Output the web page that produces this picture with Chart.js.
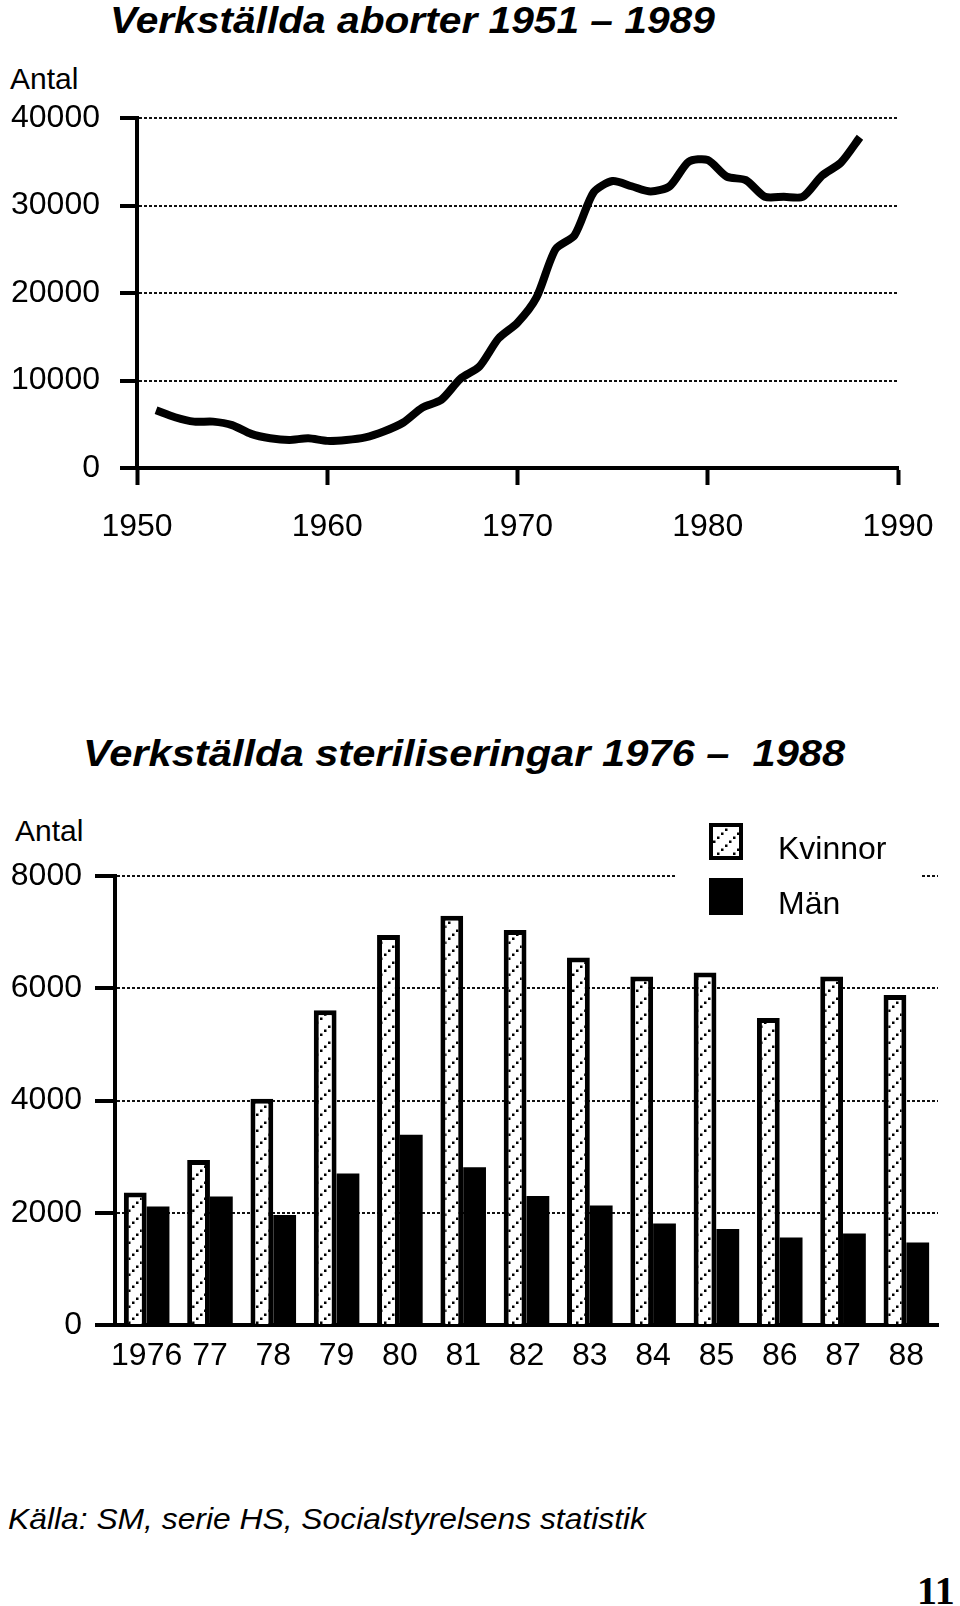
<!DOCTYPE html>
<html>
<head>
<meta charset="utf-8">
<script src="https://cdn.jsdelivr.net/npm/chart.js@4"></script>
<style>
  body { margin: 0; background: #fff; width: 960px; height: 1606px; position: relative; overflow: hidden;
         font-family: "Liberation Sans", Arial, sans-serif; color: #000; }
  .txt { position: absolute; white-space: nowrap; line-height: 1; }
  .title { font-weight: bold; font-style: italic; font-size: 37px; transform-origin: left top; transform: scaleX(1.1); }
  .antal { font-size: 30px; }
  .box { position: absolute; }
  #legend { position: absolute; left: 677px; top: 815px; width: 243px; height: 105px; background: #fff; }
  .sw { position: absolute; left: 32px; width: 34px; height: 37px; box-sizing: border-box; }
  .lg { position: absolute; left: 101px; font-size: 32px; line-height: 1; }
</style>
</head>
<body>

<div class="txt title" style="left:110px; top:2px;">Verkställda aborter 1951 – 1989</div>
<div class="txt antal" style="left:10px; top:64px;">Antal</div>
<div class="box" style="left:0; top:0;"><canvas id="abortChart" width="960" height="560"></canvas></div>

<div class="txt title" style="left:83px; top:735px; transform:scaleX(1.125);">Verkställda steriliseringar 1976 –&nbsp; 1988</div>
<div class="txt antal" style="left:15px; top:816px;">Antal</div>
<div class="box" style="left:0; top:700px;"><canvas id="sterilChart" width="960" height="720"></canvas></div>

<div id="legend">
  <div class="sw" id="swK" style="top:8px; border:4px solid #000;"></div>
  <div class="lg" style="top:17px;">Kvinnor</div>
  <div class="sw" style="top:63px; background:#000;"></div>
  <div class="lg" style="top:72px;">Män</div>
</div>

<div class="txt" style="left:8px; top:1504px; font-size:30px; font-style:italic; transform-origin:left top; transform:scaleX(1.06);">Källa: SM, serie HS, Socialstyrelsens statistik</div>
<div class="txt" style="left:917px; top:1571px; font-size:40px; font-weight:bold; font-family:'Liberation Serif', serif;">11</div>

<script>
// abortions per year
const abortYears = [1951, 1952, 1953, 1954, 1955, 1956, 1957, 1958, 1959, 1960,
                    1961, 1962, 1963, 1964, 1965, 1966, 1967, 1968, 1969, 1970,
                    1971, 1972, 1973, 1974, 1975, 1976, 1977, 1978, 1979, 1980,
                    1981, 1982, 1983, 1984, 1985, 1986, 1987, 1988];
const abortValues = [6600, 5800, 5300, 5300, 4900, 3900, 3400, 3200, 3400, 3100,
                     3200, 3500, 4200, 5200, 6900, 7800, 10200, 11600, 14800, 16600,
                     19500, 25000, 26600, 31500, 32800, 32200, 31600, 32200, 35000, 35200,
                     33300, 32900, 31000, 31000, 31000, 33400, 34900, 37800];
const abortYTicks = [0, 10000, 20000, 30000, 40000];
const abortXTicks = [1950, 1960, 1970, 1980, 1990];

// sterilisations 1976-1988
const sterilLabels = ['1976', '77', '78', '79', '80', '81', '82', '83', '84', '85', '86', '87', '88'];
const kvinnor = [2360, 2940, 4030, 5610, 6950, 7290, 7040, 6550, 6210, 6280, 5470, 6210, 5880];
const man = [2110, 2290, 1960, 2700, 3390, 2810, 2300, 2130, 1810, 1710, 1560, 1630, 1470];
const sterilYTicks = [0, 2000, 4000, 6000, 8000];

const FONT = { family: '"Liberation Sans", Arial, sans-serif', size: 32 };

// dotted diagonal hatch for the Kvinnor bars
function makeHatch() {
    const c = document.createElement('canvas');
    c.width = 16; c.height = 16;
    const g = c.getContext('2d');
    g.fillStyle = '#fff';
    g.fillRect(0, 0, 16, 16);
    g.fillStyle = '#000';
    [[0, 13.5], [4, 9.5], [8, 5.5], [12, 1.5]].forEach(([x, y]) => g.fillRect(x, y, 2.5, 2.5));
    return c;
}
const hatchCanvas = makeHatch();
const hatch = hatchCanvas.getContext('2d').createPattern(hatchCanvas, 'repeat');
document.getElementById('swK').style.background = 'url(' + hatchCanvas.toDataURL() + ')';

function yAxis(ticks, width, tickLen, pad) {
    return {
        min: ticks[0],
        max: ticks[ticks.length - 1],
        afterFit: s => { s.width = width; },
        afterBuildTicks: s => { s.ticks = ticks.map(v => ({ value: v })); },
        ticks: { color: '#000', font: FONT, padding: pad, callback: v => String(v) },
        grid: { color: '#111', lineWidth: 2, tickLength: tickLen, tickColor: '#000', tickWidth: 4 },
        border: { display: true, color: '#000', width: 4, dash: [3, 2] },
    };
}

new Chart(document.getElementById('abortChart'), {
    type: 'line',
    data: {
        datasets: [{
            data: abortYears.map((yr, i) => ({ x: yr, y: abortValues[i] })),
            borderColor: '#000',
            borderWidth: 8,
            pointRadius: 0,
            tension: 0.25,
            borderJoinStyle: 'round',
        }],
    },
    options: {
        responsive: false,
        animation: false,
        layout: { padding: { left: 0, top: 118, right: 62, bottom: 20 } },
        plugins: { legend: { display: false }, tooltip: { enabled: false } },
        scales: {
            x: {
                type: 'linear',
                min: abortXTicks[0],
                max: abortXTicks[abortXTicks.length - 1],
                afterFit: s => { s.height = 72; },
                afterBuildTicks: s => { s.ticks = abortXTicks.map(v => ({ value: v })); },
                ticks: { color: '#000', font: FONT, padding: 23, maxRotation: 0, callback: v => String(v) },
                grid: { drawOnChartArea: false, tickLength: 17, tickColor: '#000', tickWidth: 4 },
                border: { color: '#000', width: 4 },
            },
            y: yAxis(abortYTicks, 137, 17, 20),
        },
    },
});

new Chart(document.getElementById('sterilChart'), {
    type: 'bar',
    data: {
        labels: sterilLabels,
        datasets: [
            { label: 'Kvinnor', data: kvinnor, backgroundColor: hatch, borderColor: '#000', borderWidth: 5 },
            { label: 'Män', data: man, backgroundColor: '#000', borderWidth: 0 },
        ],
    },
    options: {
        responsive: false,
        animation: false,
        layout: { padding: { left: 0, top: 176, right: 22, bottom: 45 } },
        plugins: { legend: { display: false }, tooltip: { enabled: false } },
        datasets: { bar: { categoryPercentage: 0.72, barPercentage: 1.0 } },
        scales: {
            x: {
                afterFit: s => { s.height = 50; },
                ticks: { color: '#000', font: FONT, padding: 12, maxRotation: 0, autoSkip: false },
                grid: { display: false, drawTicks: false },
                border: { color: '#000', width: 4 },
            },
            y: yAxis(sterilYTicks, 115, 20, 13),
        },
    },
});
</script>
</body>
</html>
